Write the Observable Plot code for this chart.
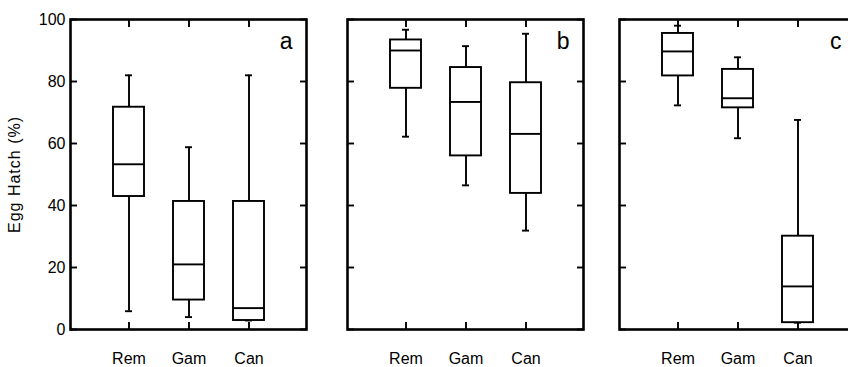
<!DOCTYPE html>
<html><head><meta charset="utf-8">
<script src="https://cdn.jsdelivr.net/npm/d3@7"></script>
<script src="https://cdn.jsdelivr.net/npm/@observablehq/plot@0.6"></script>
<style>
body{margin:0;background:#fff}
#wrap{position:relative;width:848px;height:367px;overflow:hidden;background:#fff}
#wrap > svg{position:absolute;top:0}
#wrap g[aria-label="y-axis label"] text{letter-spacing:1px;font-size:16px}
</style></head><body><div id="wrap"></div>
<script>
const categories = ["Rem", "Gam", "Can"];
const yTicks = [0, 20, 40, 60, 80, 100];
const panelLabels = ["a", "b", "c"];
const yLabel = "Egg Hatch (%)";

// five-number summaries (Rem, Gam, Can)
const lowA = [5.9, 4.0, 2.9];
const q1A  = [42.9, 9.5, 2.9];
const medA = [53.3, 21.0, 6.9];
const q3A  = [71.7, 41.3, 41.3];
const highA = [82.0, 58.8, 82.0];

const lowB = [62.2, 46.5, 31.9];
const q1B  = [77.8, 56.0, 43.9];
const medB = [90.0, 73.4, 63.1];
const q3B  = [93.4, 84.5, 79.6];
const highB = [96.7, 91.4, 95.4];

const lowC = [72.3, 61.7, 2.2];
const q1C  = [81.8, 71.5, 2.2];
const medC = [89.7, 74.6, 13.9];
const q3C  = [95.5, 83.9, 30.1];
const highC = [98.0, 87.8, 67.6];

const series = [
  [lowA, q1A, medA, q3A, highA],
  [lowB, q1B, medB, q3B, highB],
  [lowC, q1C, medC, q3C, highC]
];
const lefts = [0, 343, 615];
const font = "Liberation Sans, Arial, Helvetica, sans-serif";

function makePanel(k) {
  const [lo, q1, med, q3, hi] = series[k];
  const rows = categories.map((c, i) => ({cat: c, lo: lo[i], q1: q1[i], med: med[i], q3: q3[i], hi: hi[i]}));
  const mL = k === 0 ? 70 : 4, mR = 4, plotW = 236;
  const blank = () => "";
  const sw = 1.9;
  const marks = [
    Plot.ruleX(rows, {x: "cat", y1: "lo", y2: "hi", stroke: "#000", strokeWidth: sw}),
    Plot.tickY(rows, {x: "cat", y: "hi", stroke: "#000", strokeWidth: sw, inset: 12}),
    Plot.tickY(rows, {x: "cat", y: "lo", stroke: "#000", strokeWidth: sw, inset: 12}),
    Plot.barY(rows, {x: "cat", y1: "q1", y2: "q3", fill: "#fff", stroke: "#000", strokeWidth: sw}),
    Plot.tickY(rows, {x: "cat", y: "med", stroke: "#000", strokeWidth: sw}),
    Plot.axisX({anchor: "bottom", tickSize: -7, tickFormat: blank, strokeWidth: sw, label: null}),
    Plot.axisX({anchor: "top", tickSize: -7, tickFormat: blank, strokeWidth: sw, label: null}),
    Plot.axisX({anchor: "bottom", tickSize: 0, tickPadding: 23, fontSize: 16, label: null}),
    Plot.axisY({anchor: "left", ticks: yTicks, tickSize: -7, tickFormat: blank, strokeWidth: sw, label: null}),
    Plot.axisY({anchor: "right", ticks: yTicks, tickSize: -7, tickFormat: blank, strokeWidth: sw, label: null}),
    Plot.frame({stroke: "#000", strokeWidth: 2.6}),
    Plot.text([panelLabels[k]], {frameAnchor: "top-right", dx: -14, dy: 29, lineAnchor: "bottom", textAnchor: "end", fontSize: 23})
  ];
  if (k === 0) {
    marks.push(Plot.axisY({anchor: "left", ticks: yTicks, tickSize: 0, tickPadding: 5, fontSize: 16,
      label: yLabel, labelAnchor: "center", labelArrow: "none", labelOffset: 62}));
  }
  const svg = Plot.plot({
    width: mL + plotW + mR,
    height: 367,
    marginLeft: mL,
    marginRight: mR,
    marginTop: 19,
    marginBottom: 38,
    style: {fontFamily: font, fontSize: "15px", color: "#000", background: "transparent", overflow: "visible"},
    x: {type: "band", domain: categories, paddingInner: 0.49, paddingOuter: 0.68, axis: null},
    y: {domain: [0, 100], axis: null},
    marks
  });
  svg.style.left = lefts[k] + "px";
  return svg;
}

const wrap = document.getElementById("wrap");
for (let k = 0; k < 3; k++) wrap.appendChild(makePanel(k));
</script>
</body></html>
